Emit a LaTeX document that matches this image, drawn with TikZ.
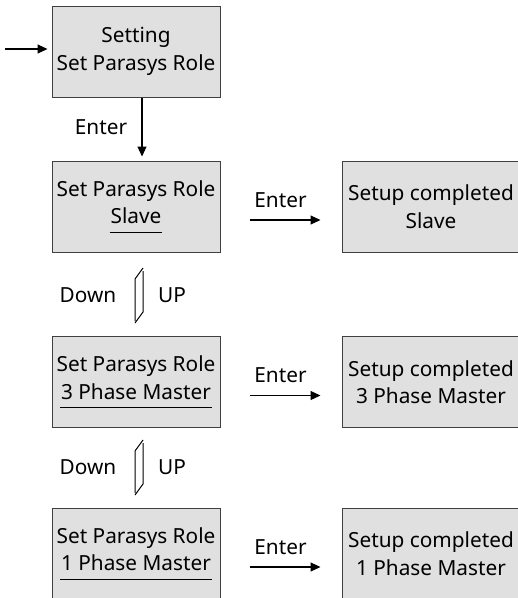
\documentclass[tikz,border=0pt]{standalone}
\usepackage{fontspec}
\setmainfont{Noto Sans}
\usetikzlibrary{arrows.meta}
\definecolor{boxfill}{HTML}{E0E0E0}
\definecolor{boxline}{HTML}{404040}
\newcommand{\myul}[1]{\underline{\kern1pt\vphantom{\rule[-7pt]{0pt}{1pt}}#1\kern1pt}}
\begin{document}
\begin{tikzpicture}[x=1pt,y=-1pt,
  txt/.style={font=\fontsize{20.8}{27.5}\selectfont, text=black},
  menubox/.style={txt, draw=boxline, line width=1pt, fill=boxfill, minimum width=168pt, minimum height=91pt, align=center, inner sep=0pt},
  donebox/.style={menubox, minimum width=178pt},
  arr/.style={-{Triangle[length=10pt,width=9pt]}, line width=1.1pt},
  harp/.style={line width=1pt}
]
\useasboundingbox (0,0) rectangle (518,598);

\node[menubox] (b1) at (136,51.5) {Setting\\Set Parasys Role};
\node[menubox] (b2) at (136,206.5) {Set Parasys Role\\\myul{Slave}};
\node[menubox] (b3) at (136,382) {Set Parasys Role\\\myul{3 Phase Master}};
\node[menubox] (b4) at (136,553.5) {Set Parasys Role\\\myul{1 Phase Master}};

\node[donebox] (s2) at (431,206.5) {Setup completed\\Slave};
\node[donebox] (s3) at (431,382) {Setup completed\\3 Phase Master};
\node[donebox] (s4) at (431,553.5) {Setup completed\\1 Phase Master};

% entry arrow
\coordinate (start) at (5,49);
\draw[arr, shorten >=4pt] (start) -- (start -| b1.west);

% vertical Enter
\draw[arr, shorten >=4pt] ([xshift=6pt]b1.south) -- ([xshift=6pt]b2.north);
\node[txt] (e1) at (101,127) {Enter};

% horizontal Enter arrows
\foreach \a/\b/\n in {b2/s2/e2, b3/s3/e3, b4/s4/e4}{
  \draw[arr, shorten <=29pt, shorten >=21pt] ([yshift=-13.5pt]\a.east) -- ([yshift=-13.5pt]\b.west);
  \node[txt] (\n) at ([xshift=60pt,yshift=6.5pt]\a.east) {Enter};
}

% harpoon pairs
\coordinate (h1) at (139,295);
\coordinate (h2) at (139,467);
\foreach \h/\n in {h1/1, h2/2}{
  \draw[harp] ([shift={(-4,26)}]\h) -- ([shift={(-4,-16)}]\h) -- ([shift={(4,-27)}]\h);
  \draw[harp] ([shift={(4,-24)}]\h) -- ([shift={(4,17)}]\h) -- ([shift={(-4,28)}]\h);
  \node[txt] (down\n) at ([xshift=-51pt]\h) {Down};
  \node[txt] (up\n) at ([xshift=33pt]\h) {UP};
}
\end{tikzpicture}
\end{document}
